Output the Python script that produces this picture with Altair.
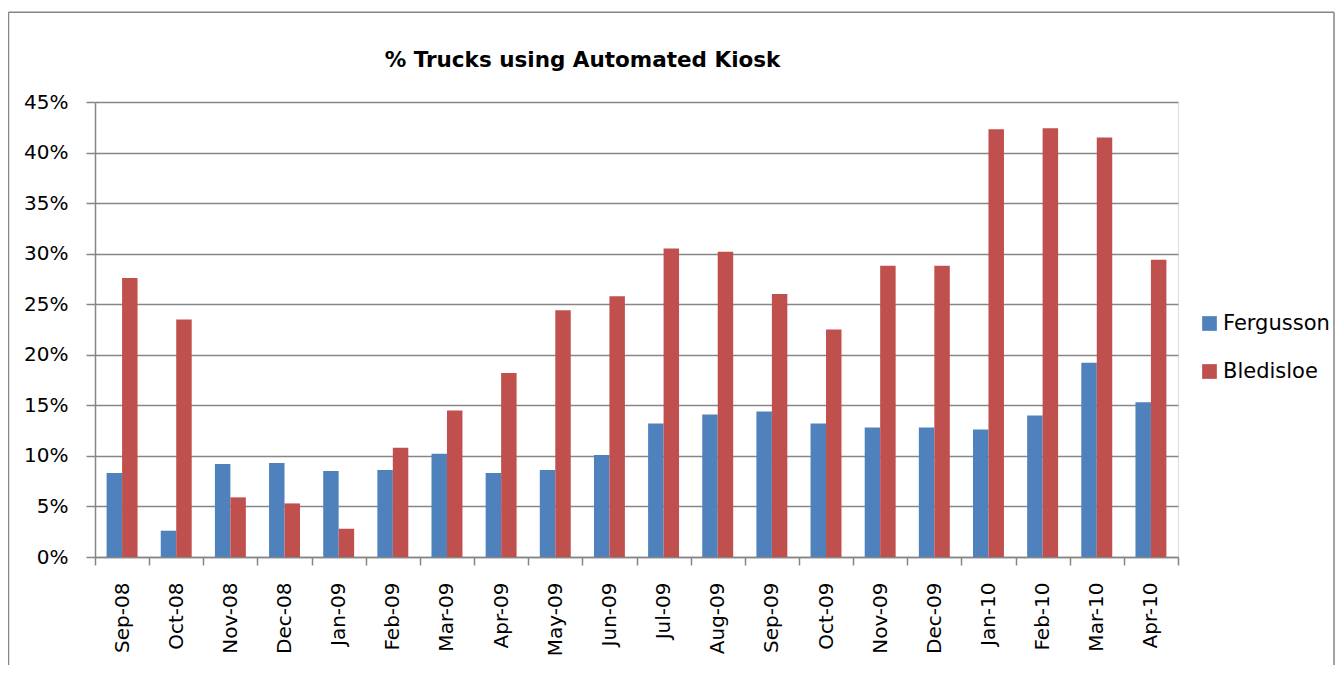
import altair as alt
import pandas as pd

months = ["Sep-08", "Oct-08", "Nov-08", "Dec-08", "Jan-09", "Feb-09", "Mar-09",
          "Apr-09", "May-09", "Jun-09", "Jul-09", "Aug-09", "Sep-09", "Oct-09",
          "Nov-09", "Dec-09", "Jan-10", "Feb-10", "Mar-10", "Apr-10"]
fergusson = [8.3, 2.6, 9.2, 9.3, 8.5, 8.6, 10.2, 8.3, 8.6, 10.1,
             13.2, 14.1, 14.4, 13.2, 12.8, 12.8, 12.6, 14.0, 19.2, 15.3]
bledisloe = [27.6, 23.5, 5.9, 5.3, 2.8, 10.8, 14.5, 18.2, 24.4, 25.8,
             30.5, 30.2, 26.0, 22.5, 28.8, 28.8, 42.3, 42.4, 41.5, 29.4]
series = ["Fergusson", "Bledisloe"]
colors = ["#4F81BD", "#C0504D"]
y_ticks = [0, 0.05, 0.10, 0.15, 0.20, 0.25, 0.30, 0.35, 0.40, 0.45]
title_text = "% Trucks using Automated Kiosk"

rows = []
for m, f, b in zip(months, fergusson, bledisloe):
    rows.append({"month": m, "series": series[0], "value": f / 100})
    rows.append({"month": m, "series": series[1], "value": b / 100})
df = pd.DataFrame(rows)

GRAY = "#868686"
FONT = "DejaVu Sans"

bars = alt.Chart(df).mark_bar().encode(
    x=alt.X("month:N", sort=months, title=None,
            scale=alt.Scale(paddingInner=0, paddingOuter=0),
            axis=alt.Axis(labelAngle=-90, labelFont=FONT, labelFontSize=20,
                          labelColor="black", labelPadding=17,
                          tickBand="extent", tickSize=8, tickColor=GRAY,
                          tickWidth=1.5, domainColor=GRAY, domainWidth=1.5,
                          grid=False)),
    xOffset=alt.XOffset("series:N", sort=series,
                        scale=alt.Scale(paddingInner=0, paddingOuter=0.75)),
    y=alt.Y("value:Q", title=None,
            scale=alt.Scale(domain=[0, 0.45], nice=False),
            axis=alt.Axis(values=y_ticks, format=".0%", labelFont=FONT,
                          labelFontSize=20, labelColor="black", labelPadding=18,
                          tickSize=9, tickColor=GRAY, tickWidth=1.5,
                          domainColor=GRAY, domainWidth=1.5,
                          grid=True, gridColor=GRAY, gridWidth=1.5)),
    color=alt.Color("series:N", sort=series, title=None,
                    scale=alt.Scale(domain=series, range=colors),
                    legend=alt.Legend(orient="none", legendX=1104, legendY=211,
                                      labelFont=FONT, labelFontSize=21,
                                      labelColor="black", symbolType="square",
                                      symbolSize=216, symbolStrokeWidth=0,
                                      rowPadding=26, labelOffset=3, padding=0)),
)

one = pd.DataFrame({"k": [0]})
border_left = alt.Chart(one).mark_rule(color=GRAY, strokeWidth=1.5).encode(
    x=alt.value(-86.5), y=alt.value(-89.7), y2=alt.value(563))
border_right = alt.Chart(one).mark_rule(color=GRAY, strokeWidth=1.5).encode(
    x=alt.value(1239), y=alt.value(-89.7), y2=alt.value(563))
border_top = alt.Chart(one).mark_rule(color=GRAY, strokeWidth=1.5).encode(
    x=alt.value(-86.5), x2=alt.value(1239), y=alt.value(-89.7))

chart = alt.layer(bars, border_left, border_right, border_top).properties(
    width=1083, height=455,
    title=alt.TitleParams(text=title_text, anchor="middle", dx=-54, offset=-77,
                          baseline="alphabetic", font=FONT, fontSize=21.5,
                          fontWeight="bold", color="black"),
    autosize=alt.AutoSizeParams(type="none"),
    padding={"left": 87, "top": 94, "right": 157, "bottom": 108},
).configure_view(stroke=None).configure(background="white")

chart.save("out.html", embed_options={"renderer": "svg", "actions": False})
